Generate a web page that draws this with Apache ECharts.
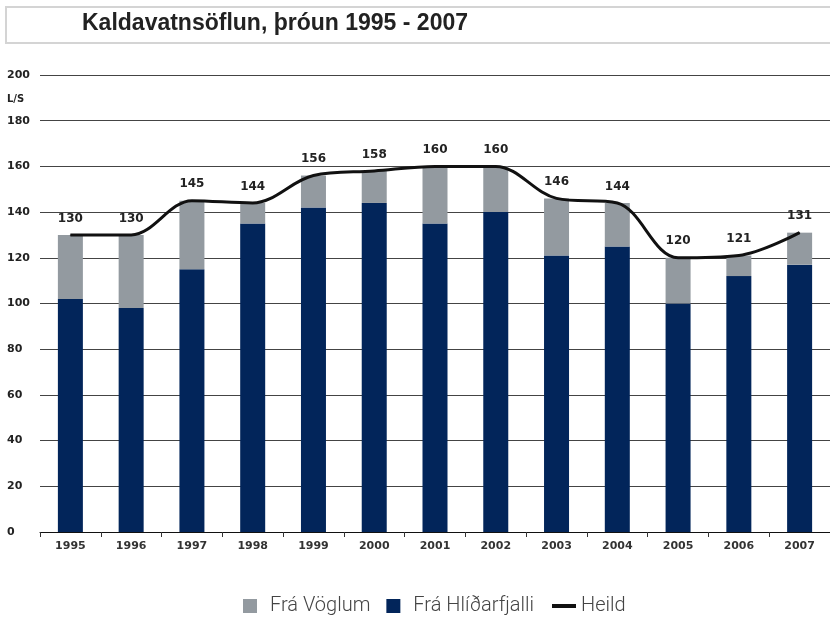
<!DOCTYPE html>
<html>
<head>
<meta charset="utf-8">
<style>
html, body { margin: 0; padding: 0; background: #fff; }
#chart { width: 830px; height: 618px; }
</style>
<script src="https://cdn.jsdelivr.net/npm/echarts@6/dist/echarts.min.js"></script>
</head>
<body>
<div id="chart"></div>
<script>
// gögn lesin af myndinni
const years = ['1995', '1996', '1997', '1998', '1999', '2000', '2001', '2002', '2003', '2004', '2005', '2006', '2007'];
const hlidarfjall = [102, 98, 115, 135, 142, 144, 135, 140, 121, 125, 100, 112, 117];
const heild = [130, 130, 145, 144, 156, 158, 160, 160, 146, 144, 120, 121, 131];
const voglar = [28, 32, 30, 9, 14, 14, 25, 20, 25, 19, 20, 9, 14];

let myChart = echarts.init(document.getElementById('chart'));

const legendText = {
	fontFamily: 'Roboto, sans-serif',
	fontWeight: 300,
	fontSize: 20,
	color: '#444'
};

myChart.setOption({
	animation: false,
	graphic: [{
		type: 'rect',
		shape: { x: 6, y: 7, width: 840, height: 36 },
		style: { fill: '#fff', stroke: '#d4d4d4', lineWidth: 2 }
	}, {
		type: 'text',
		left: 82,
		top: 12,
		style: {
			text: 'Kaldavatnsöflun, þróun 1995 - 2007',
			font: 'bold 23px "Liberation Sans", Arial, sans-serif',
			fill: '#222'
		}
	}, {
		type: 'text',
		left: 7,
		top: 94,
		style: {
			text: 'L/S',
			font: 'bold 10px "DejaVu Sans", sans-serif',
			fill: '#222'
		}
	}],
	legend: [{
		top: 591,
		left: 238,
		itemWidth: 14,
		itemHeight: 14,
		itemGap: 16,
		textStyle: Object.assign({ padding: [0, 0, 0, 8] }, legendText),
		data: [
			{ name: 'Frá Vöglum', icon: 'rect' },
			{ name: 'Frá Hlíðarfjalli', icon: 'rect' }
		]
	}, {
		top: 591,
		left: 547,
		itemWidth: 24,
		itemHeight: 4,
		textStyle: legendText,
		data: [
			{ name: 'Heild', icon: 'rect', itemStyle: { color: '#111' } }
		]
	}],
	grid: {
		left: 40,
		right: -10,
		top: 75,
		bottom: 86
	},
	xAxis: {
		type: 'category',
		data: years,
		axisLine: { lineStyle: { color: '#111', width: 1 } },
		axisTick: { show: true, length: 5, lineStyle: { color: '#333' } },
		axisLabel: {
			color: '#333',
			fontFamily: '"DejaVu Sans", sans-serif',
			fontWeight: 'bold',
			fontSize: 11,
			margin: 9
		}
	},
	yAxis: {
		type: 'value',
		min: 0,
		max: 200,
		interval: 20,
		axisLine: { show: false },
		axisTick: { show: false },
		splitLine: { lineStyle: { color: '#444', width: 1 } },
		axisLabel: {
			align: 'left',
			margin: 33,
			color: '#222',
			fontFamily: '"DejaVu Sans", sans-serif',
			fontWeight: 'bold',
			fontSize: 11
		}
	},
	series: [{
		name: 'Frá Hlíðarfjalli',
		type: 'bar',
		stack: 'heild',
		barWidth: 25,
		itemStyle: { color: '#02255a' },
		data: hlidarfjall
	}, {
		name: 'Frá Vöglum',
		type: 'bar',
		stack: 'heild',
		barWidth: 25,
		itemStyle: { color: '#939aa0' },
		data: voglar
	}, {
		name: 'Heild',
		type: 'line',
		smooth: 0.35,
		symbol: 'circle',
		symbolSize: 1,
		showSymbol: true,
		z: 5,
		lineStyle: { color: '#111', width: 3 },
		itemStyle: { color: '#111' },
		label: {
			show: true,
			position: 'top',
			distance: 10,
			color: '#222',
			fontFamily: '"DejaVu Sans", sans-serif',
			fontWeight: 'bold',
			fontSize: 12
		},
		data: heild
	}]
});
</script>
</body>
</html>
